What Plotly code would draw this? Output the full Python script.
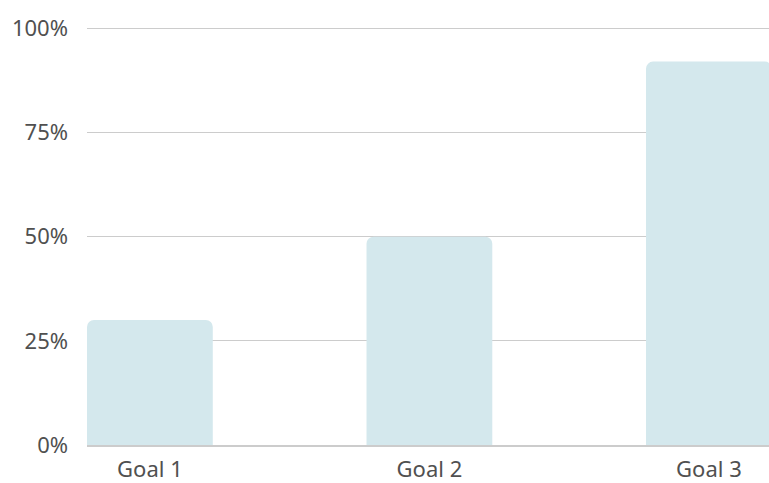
import plotly.graph_objects as go

categories = ["Goal 1", "Goal 2", "Goal 3"]
values = [30, 50, 92]
tick_vals = [0, 25, 50, 75, 100]
tick_text = ["0%", "25%", "50%", "75%", "100%"]

fig = go.Figure(go.Bar(
    x=categories, y=values, width=0.45,
    marker=dict(color="#d4e8ed", line=dict(width=0)),
    hoverinfo="skip",
))
fig.update_layout(
    width=769, height=483,
    margin=dict(l=87, r=0, t=27, b=36),
    paper_bgcolor="white", plot_bgcolor="white",
    barcornerradius=7,
    showlegend=False,
    font=dict(family="Noto Sans", size=22, color="#505050"),
)
fig.update_xaxes(
    range=[-0.225, 2.215], showgrid=False,
    showline=True, linecolor="#cccccc", linewidth=1.5,
    ticks="", ticklabelstandoff=4,
    tickfont=dict(size=22, color="#505050"),
)
fig.update_yaxes(
    range=[0, 100.3], tickvals=tick_vals, ticktext=tick_text,
    showgrid=True, gridcolor="#cccccc", gridwidth=1.2,
    zeroline=False, showline=False, ticks="",
    ticklabelstandoff=18, tickfont=dict(size=22, color="#505050"),
)
fig.write_html(
    "out.html",
    config={"displayModeBar": False},
    post_script="document.body.style.margin='0';document.body.style.overflow='hidden';",
)
